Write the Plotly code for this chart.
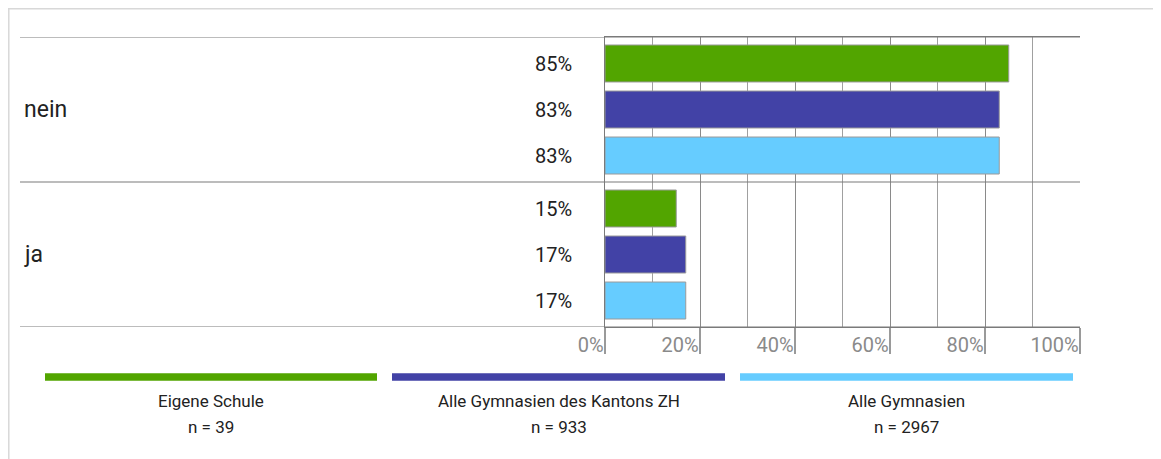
import plotly.graph_objects as go

categories = ["nein", "ja"]
series_names = ["Eigene Schule", "Alle Gymnasien des Kantons ZH", "Alle Gymnasien"]
series_n = ["n = 39", "n = 933", "n = 2967"]
values_eigene = [85, 15]
values_zh = [83, 17]
values_alle = [83, 17]
series_values = [values_eigene, values_zh, values_alle]
colors = ["#52a500", "#4242a6", "#66ccff"]
tick_vals = [0, 20, 40, 60, 80, 100]
tick_text = ["0%", "20%", "40%", "60%", "80%", "100%"]

W, H = 1161, 459
OFF = 8  # page body margin
L = 605 - OFF
T = 37 - OFF
Rx = 1080 - OFF
By = 327 - OFF
PW = Rx - L
PH = By - T

def px_x(x):
    return (x - OFF - L) / PW

def px_y(y):
    return 1 - (y - OFF - T) / PH

FONT = "Roboto"
fig = go.Figure()
for i, (name, vals) in enumerate(zip(series_names, series_values)):
    fig.add_trace(go.Bar(
        y=categories, x=vals, orientation="h", name=name,
        marker=dict(color=colors[i], line=dict(color="#9a9a9a", width=1)),
        showlegend=False, hoverinfo="skip",
    ))

annotations = []
for i, vals in enumerate(series_values):
    for cat, v in zip(categories, vals):
        annotations.append(dict(
            x=px_x(574), xref="paper", y=cat, yref="y", yshift=(1 - i) * 46,
            text=f"{v}%", showarrow=False, xanchor="right", yanchor="middle",
            font=dict(family=FONT, size=20, color="#222222"),
        ))
for cat in categories:
    annotations.append(dict(
        x=px_x(22), xref="paper", y=cat, yref="y",
        text=cat, showarrow=False, xanchor="left", yanchor="middle",
        font=dict(family=FONT, size=23, color="#222222"),
    ))

shapes = []
for yv in [-0.5, 0.5, 1.5]:
    shapes.append(dict(type="line", xref="paper", yref="y", x0=px_x(20), x1=1,
                       y0=yv, y1=yv, line=dict(color="#7a7a7a", width=1.2)))
# outer frame
shapes.append(dict(type="line", xref="paper", yref="paper", x0=px_x(8), x1=px_x(1170),
                   y0=px_y(8.8), y1=px_y(8.8), line=dict(color="#d8d8d8", width=1.5)))
shapes.append(dict(type="line", xref="paper", yref="paper", x0=px_x(8.8), x1=px_x(8.8),
                   y0=px_y(8), y1=px_y(470), line=dict(color="#d8d8d8", width=1.5)))

leg_x = [(45, 377), (392, 725), (740, 1073)]
for i, (x0, x1) in enumerate(leg_x):
    shapes.append(dict(type="line", xref="paper", yref="paper", x0=px_x(x0), x1=px_x(x1),
                       y0=px_y(377), y1=px_y(377), line=dict(color=colors[i], width=7.5)))
    cx = px_x((x0 + x1) / 2)
    annotations.append(dict(x=cx, xref="paper", y=px_y(401), yref="paper", text=series_names[i],
                            showarrow=False, xanchor="center", yanchor="middle",
                            font=dict(family=FONT, size=17, color="#222222")))
    annotations.append(dict(x=cx, xref="paper", y=px_y(427), yref="paper", text=series_n[i],
                            showarrow=False, xanchor="center", yanchor="middle",
                            font=dict(family=FONT, size=17, color="#222222")))

fig.update_layout(
    width=W, height=H,
    margin=dict(l=L, r=W - Rx, t=T, b=H - By),
    paper_bgcolor="white", plot_bgcolor="white",
    barmode="group", bargap=0.048, bargroupgap=0.196,
    xaxis=dict(range=[0, 100], tickvals=tick_vals, ticktext=tick_text,
               showgrid=True, gridcolor="#8a8a8a", gridwidth=1,
               minor=dict(dtick=10, showgrid=True, gridcolor="#a0a0a0", gridwidth=1),
               ticks="outside", ticklen=26, tickcolor="#9a9a9a", tickwidth=1.5,
               ticklabelposition="outside left",
               tickfont=dict(family=FONT, size=20, color="#8a8a8a"),
               showline=True, linecolor="#7a7a7a", mirror=True, zeroline=False,
               fixedrange=True),
    yaxis=dict(categoryorder="array", categoryarray=categories, range=[1.5, -0.5],
               showticklabels=False, showgrid=False, zeroline=False, fixedrange=True,
               showline=True, linecolor="#7a7a7a"),
    annotations=annotations, shapes=shapes,
)
fig.write_html("out.html")
